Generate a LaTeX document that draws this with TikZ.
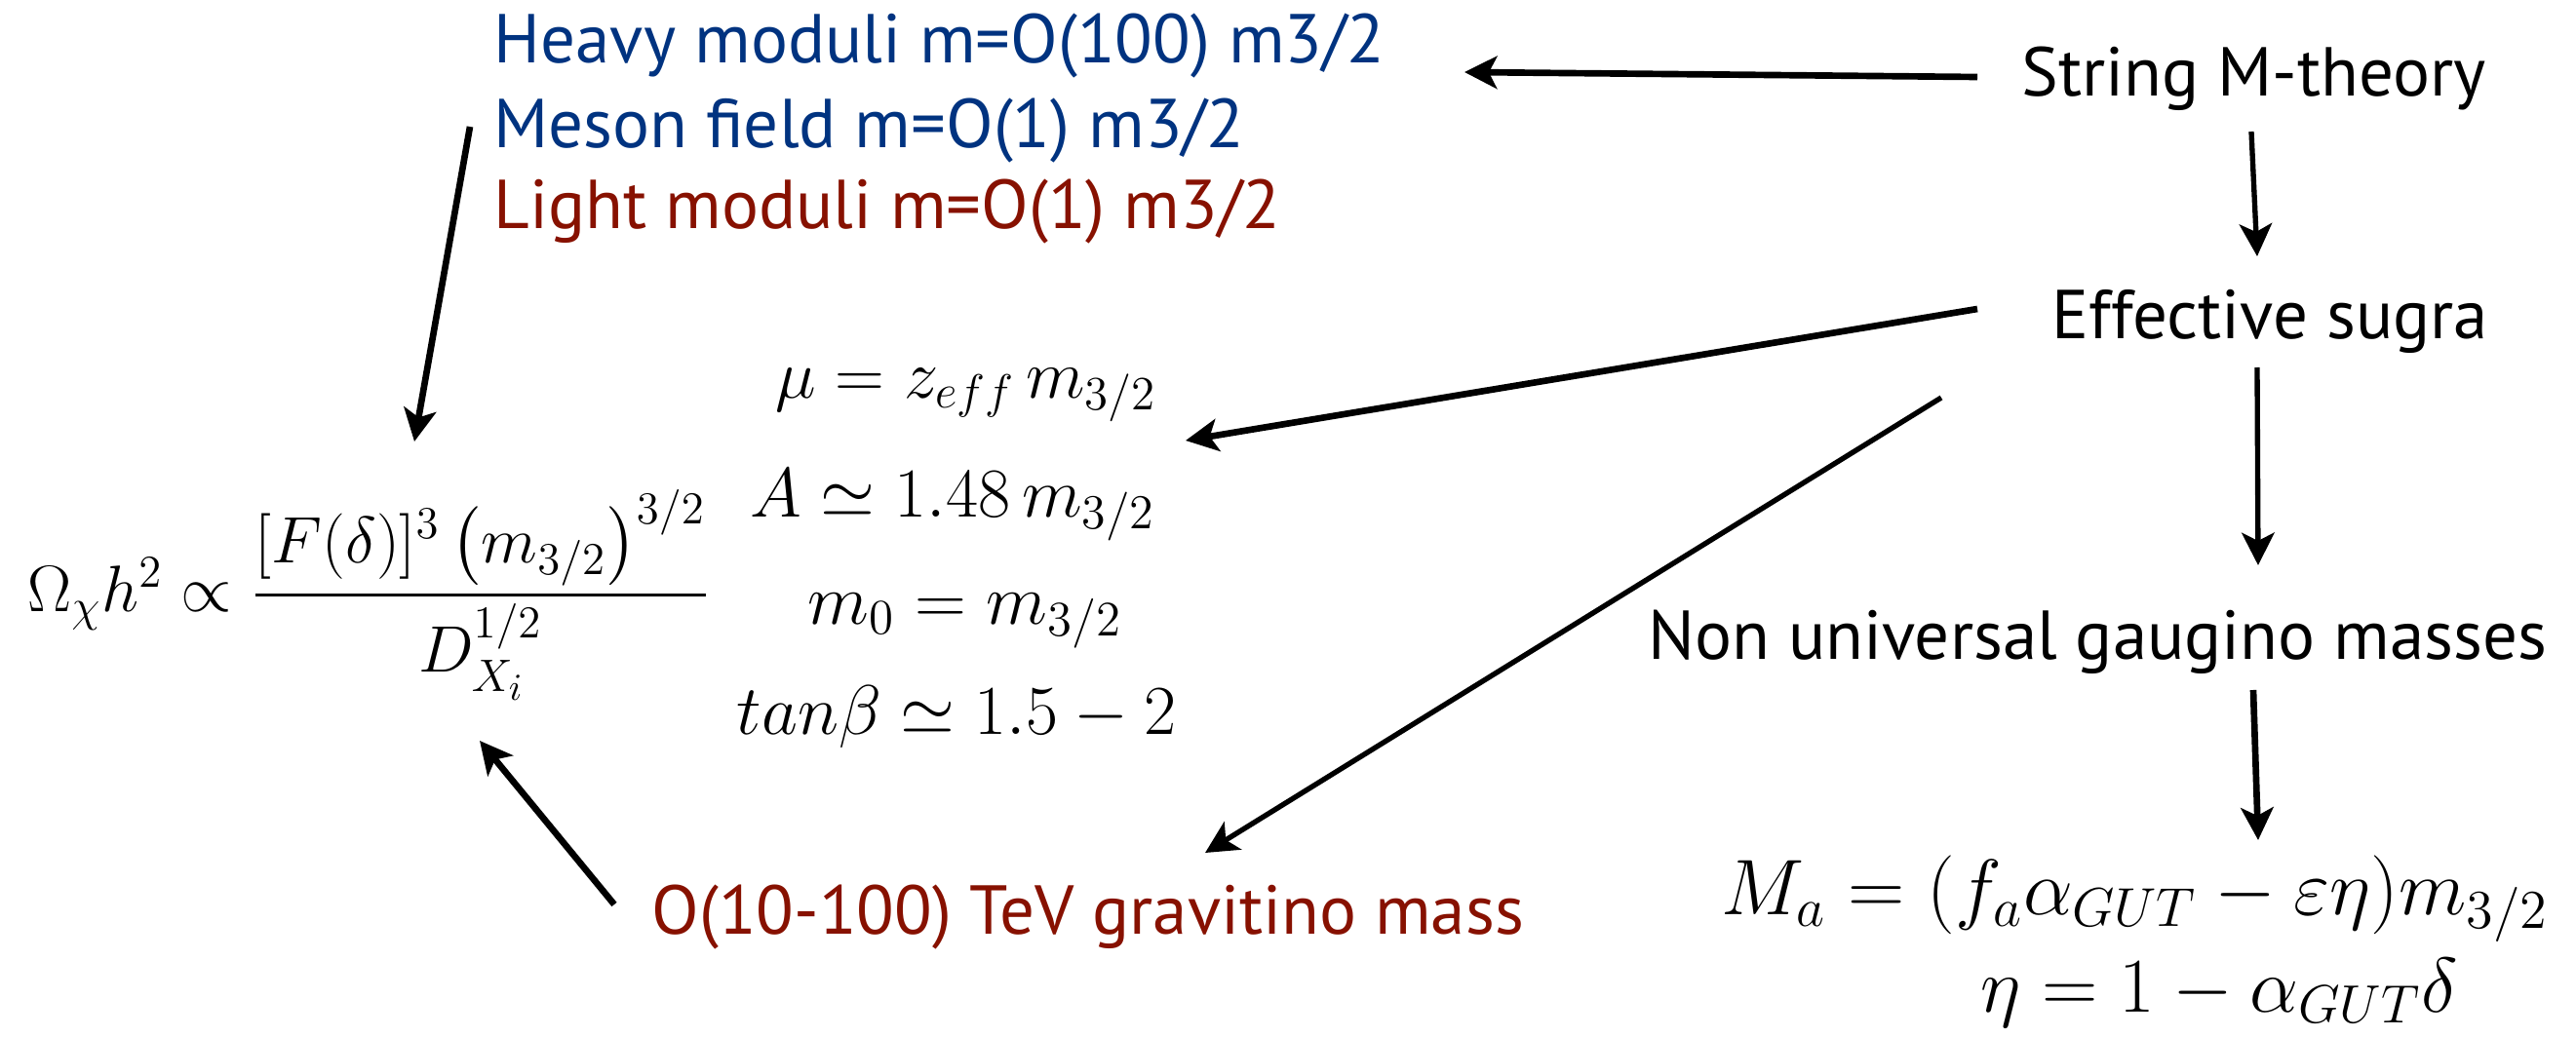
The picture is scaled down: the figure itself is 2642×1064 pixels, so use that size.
\documentclass[tikz,border=0pt]{standalone}
\usepackage{amsmath}
\usepackage{graphicx}
\usepackage{fontspec}
\setmainfont{PT Sans}
\usetikzlibrary{arrows.meta}
\definecolor{navy}{RGB}{0,51,128}
\definecolor{dred}{RGB}{135,17,0}
\begin{document}
\begin{tikzpicture}[x=0.3pt,y=-0.3pt,
  lbl/.style={inner sep=0pt, anchor=base west, font=\fontsize{21.3}{26}\selectfont},
  eqm/.style={inner sep=0pt, anchor=base, font=\fontsize{20.74}{25}\selectfont},
  eqr/.style={inner sep=0pt, anchor=base, font=\fontsize{20.74}{25}\selectfont},
  arr/.style={-{Stealth[length=10pt,width=10pt,inset=2.5pt]}, line width=2pt},
  arrt/.style={-{Stealth[length=10pt,width=10pt,inset=2.5pt]}, line width=1.6pt},
]
\fill[white] (0,0) rectangle (2642,1064);
\useasboundingbox (0,0) rectangle (2642,1064);

% text labels
\node[lbl,text=navy] (heavy) at (506,65) {Heavy moduli m=O(100) m3/2};
\node[lbl,text=navy] (meson) at (506,152) {Meson field m=O(1) m3/2};
\node[lbl,text=dred] (light) at (506,235) {Light moduli m=O(1) m3/2};
\node[lbl] (string) at (2073,99) {String M-theory};
\node[lbl] (sugra) at (2104,348) {Effective sugra};
\node[lbl] (nonuniv) at (1690,676) {Non universal gaugino masses};
\node[lbl,text=dred] (grav) at (668,958) {O(10-100) TeV gravitino mass};

% formulas
\node[inner sep=0pt, anchor=base west, font=\fontsize{17.28}{22}\selectfont] (omega) at (28,627)
  {\scalebox{1.17}{$\Omega_\chi h^2 \propto \dfrac{[F(\delta)]^3\left(m_{3/2}\right)^{3/2}}{D_{X_i}^{1/2}}$}};
\node[eqm] (mu) at (991,408) {\scalebox{1.02}{$\mu = z_{eff}\, m_{3/2}$}};
\node[eqm] (Aeq) at (977,530) {\scalebox{1.04}{$A \simeq 1.48\, m_{3/2}$}};
\node[eqm] (m0) at (990,640) {\scalebox{1.06}{$m_0 = m_{3/2}$}};
\node[eqm] (tanb) at (981,753) {\scalebox{1.04}{$tan\beta \simeq 1.5 - 2$}};
\node[eqr] (Ma) at (2190,938) {\scalebox{1.17}{$M_a = (f_a\alpha_{GUT} - \varepsilon\eta)m_{3/2}$}};
\node[eqr] (eta) at (2276,1038) {\scalebox{1.15}{$\eta = 1 - \alpha_{GUT}\delta$}};

% connector end points
\coordinate (string-w) at (2028,79);
\coordinate (heavy-e) at (1502,74);
\coordinate (string-s) at (2309,135);
\coordinate (sugra-n) at (2315,263);
\coordinate (sugra-s) at (2315,377);
\coordinate (nonuniv-n) at (2316,580);
\coordinate (nonuniv-s) at (2311,708);
\coordinate (Ma-n) at (2316,862);
\coordinate (sugra-w) at (2028,317);
\coordinate (mu-e) at (1216,452);
\coordinate (sugra-sw) at (1991,408);
\coordinate (grav-ne) at (1236,875);
\coordinate (moduli-sw) at (482,130);
\coordinate (omega-n) at (425,453);
\coordinate (grav-w) at (630,928);
\coordinate (omega-se) at (492,760);

% connectors
\draw[arr] (string-w) -- (heavy-e);
\draw[arrt] (string-s) -- (sugra-n);
\draw[arrt] (sugra-s) -- (nonuniv-n);
\draw[arr] (nonuniv-s) -- (Ma-n);
\draw[arr] (sugra-w) -- (mu-e);
\draw[arrt] (sugra-sw) -- (grav-ne);
\draw[arr] (moduli-sw) -- (omega-n);
\draw[arr] (grav-w) -- (omega-se);
\end{tikzpicture}
\end{document}
